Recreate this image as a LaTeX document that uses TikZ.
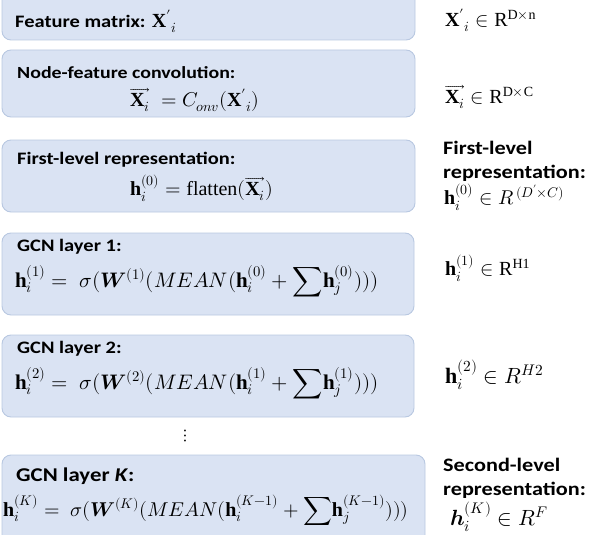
\documentclass[tikz,border=0pt]{standalone}
\usepackage{amsmath}
\usepackage{fontspec}
\setsansfont{Carlito}[FakeStretch=1.17]
\setmainfont{Liberation Serif}
\usepackage{unicode-math}
\setmathfont{Latin Modern Math}
\definecolor{boxfill}{RGB}{218,227,243}
\definecolor{boxline}{RGB}{184,200,225}
\tikzset{
  panel/.style={draw=boxline, fill=boxfill, line width=0.9pt, rounded corners=9pt, inner sep=0pt},
  lbl/.style={anchor=west, inner sep=0pt, font=\sffamily\bfseries\fontsize{17.5}{20}\selectfont},
  eq/.style={anchor=west, inner sep=0pt, font=\fontsize{20}{24}\selectfont},
  side/.style={anchor=west, inner sep=0pt, font=\fontsize{20}{24}\selectfont},
  sidelbl/.style={anchor=west, inner sep=0pt, align=left, font=\sffamily\bfseries\fontsize{19}{24}\selectfont},
}
\newcommand{\hv}{\mathbf{h}}
\newcommand{\Xv}{\overrightarrow{\mathbf{X}_{i}}}
\newcommand{\Xp}{{\mathbf{X}'}_{i}}
\newcommand{\bigsum}{{\displaystyle\sum}}
\begin{document}
\begin{tikzpicture}[x=1pt,y=-1pt]
\useasboundingbox (0,0) rectangle (592,535);
\clip (0,0) rectangle (592,535);
% boxes
\path[panel] (2,-12) rectangle (415,40);
\path[panel] (2,50) rectangle (415,117);
\path[panel] (2,140) rectangle (415,212);
\path[panel] (2,233) rectangle (414,315);
\path[panel] (2,335) rectangle (414,417);
\path[panel] (2,455) rectangle (425,545);
% left texts
\node[lbl] (t1) at (15,21) {Feature matrix: {\fontsize{20}{24}\selectfont$\Xp$}};
\node[lbl, font=\sffamily\bfseries\fontsize{17}{20}\selectfont] (t2) at (17,73) {Node-feature convolution:};
\node[eq] (e2) at (130,100) {$\Xv\; = C_{onv}(\Xp)$};
\node[lbl] (t3) at (17,160) {First-level representation:};
\node[eq] (e3) at (130,188) {$\hv_{i}^{(0)} = \mathrm{flatten}(\Xv)$};
\node[lbl] (t4) at (17,247) {GCN layer 1:};
\node[eq, font=\fontsize{21}{24}\selectfont] (e4) at (15,281) {$\hv_{i}^{(1)} =\; \sigma(\symbfit{W}^{(1)}(MEAN(\hv_{i}^{(0)} + \bigsum \hv_{j}^{(0)})))$};
\node[lbl] (t5) at (17,349) {GCN layer 2:};
\node[eq, font=\fontsize{21}{24}\selectfont] (e5) at (15,383) {$\hv_{i}^{(2)} =\; \sigma(\symbfit{W}^{(2)}(MEAN(\hv_{i}^{(1)} + \bigsum \hv_{j}^{(1)})))$};
\node[lbl, font=\sffamily\bfseries\fontsize{19.5}{24}\selectfont] (t6) at (16,476) {GCN layer \textit{K}:};
\node[eq] (e6) at (3,510) {$\hv_{i}^{(K)} =\; \sigma(\symbfit{W}^{(K)}(MEAN(\hv_{i}^{(K-1)} + \bigsum \hv_{j}^{(K-1)})))$};
\node[inner sep=0pt, font=\fontsize{18}{20}\selectfont] (dots) at (185,436) {$\vdots$};
% right column
\node[side] (r1) at (445,20) {$\Xp \in \mathrm{R}^{\mathrm{D\times n}}$};
\node[side] (r2) at (445,97) {$\Xv \in \mathrm{R}^{\mathrm{D\times C}}$};
\node[sidelbl] (r3l) at (443,161) {First-level\\representation:};
\node[side] (r3) at (444,197) {$\hv_{i}^{(0)} \in R^{\,(D'\times C)}$};
\node[side] (r4) at (445,268) {$\hv_{i}^{(1)} \in \mathrm{R}^{\mathrm{H1}}$};
\node[side, font=\fontsize{22}{26}\selectfont] (r5) at (445,375) {$\hv_{i}^{(2)} \in R^{H2}$};
\node[sidelbl] (r6l) at (443,478) {Second-level\\representation:};
\node[side, font=\fontsize{22}{26}\selectfont] (r6) at (450,517) {$\symbfit{h}_{i}^{(K)} \in R^{F}$};
\end{tikzpicture}
\end{document}
